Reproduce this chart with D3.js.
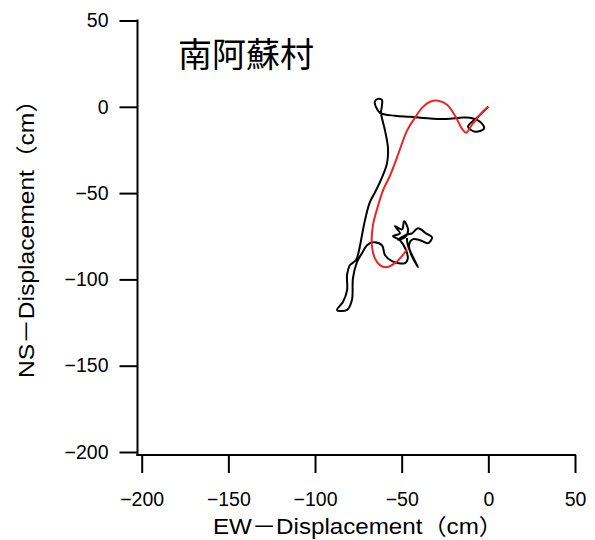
<!DOCTYPE html>
<html>
<head>
<meta charset="utf-8">
<script src="https://cdn.jsdelivr.net/npm/d3@7"></script>
<style>
  html, body { margin: 0; padding: 0; background: #fff; }
  svg { display: block; }
  text { font-family: "Liberation Sans", Arial, "Noto Sans CJK JP", sans-serif; fill: #000; }
</style>
</head>
<body>
<svg id="chart" width="595" height="540"></svg>
<script>
// ---- data (cm) ----
const title = "南阿蘇村";
const xLabel = "EW－Displacement（cm）";
const yLabel = "NS－Displacement（cm）";
const xTicks = [-200, -150, -100, -50, 0, 50];
const yTicks = [-200, -150, -100, -50, 0, 50];

// black trajectory
const blackEW = [0, -2.5, -5.9, -11.7, -7.7, -2.5, -4.8, -10.6, -16.3, -22.1, -31.9, -45.2, -53.9, -62.5, -64.9, -65.5, -63.8, -61.4, -61.4, -61.9, -59.6, -57.9, -58.5, -61.4, -65.4, -68.4, -71.2, -72.9, -74.6, -76.3, -79.8, -81.5, -81.5, -83.9, -87.3, -81.5, -78.7, -78.1, -75.8, -72.9, -70.0, -66.6, -61.4, -59.6, -55.6, -48.1, -46.5, -47.5, -51.0, -55.0, -51.0, -53.9, -49.8, -48.6, -46.3, -48.1, -52.0, -47.0, -44.0, -40.6, -36.0, -32.5, -34.8, -39.4, -43.4, -45.7, -44.6, -42.3, -40.6, -44.0, -46.5, -47.0];
const blackNS = [0, -2.3, -5.8, -11.5, -14.4, -12.7, -8.7, -6.3, -6.3, -6.9, -6.9, -5.8, -5.2, -3.5, 0, 2.9, 4.6, 4.0, 0.6, -3.5, -13.8, -24.2, -32.9, -41.0, -49.6, -55.4, -65.8, -74.4, -83.1, -88.8, -91.7, -97.5, -106.2, -113.1, -117.7, -117.7, -111.9, -99.2, -90.0, -84.8, -80.2, -78.5, -80.2, -86.0, -89.4, -90.6, -88.0, -83.1, -77.3, -75.0, -73.3, -69.2, -71.0, -66.3, -71.5, -75.6, -77.0, -74.0, -73.3, -70.4, -73.3, -75.6, -79.0, -77.3, -76.7, -79.6, -85.4, -90.0, -92.9, -86.0, -80.0, -76.0];

// red trajectory
const redEW = [0, -4.8, -9.4, -12.9, -15.2, -19.2, -23.8, -29.0, -33.6, -38.3, -42.3, -46.9, -52.7, -56.7, -60.8, -63.6, -66.6, -67.2, -65.5, -62.6, -58.5, -53.9, -49.8, -46.9];
const redNS = [0, -4.6, -10.4, -15.0, -12.7, -5.2, 1.2, 3.5, 2.9, -0.6, -6.3, -13.8, -29.4, -39.8, -48.5, -57.1, -68.7, -80.2, -87.7, -91.7, -92.9, -90.6, -86.5, -82.5];

// ---- layout ----
const svg = d3.select("#chart");
const x = d3.scaleLinear().domain([-200, 50]).range([141.7, 575]);
const y = d3.scaleLinear().domain([-200, 50]).range([452, 20.5]);
const axisX = 455, axisY = 137.5;
const fmt = d => d < 0 ? "\u2212" + Math.abs(d) : String(d);

// x axis
const gx = svg.append("g").attr("transform", `translate(0,${axisX})`)
  .call(d3.axisBottom(x).tickValues(xTicks).tickSize(18).tickPadding(19).tickFormat(fmt));
gx.select(".domain").remove();
gx.selectAll(".tick line").attr("stroke", "#000").attr("stroke-width", 2);
gx.selectAll(".tick text").attr("font-size", 19.5).attr("font-family", "Liberation Sans, Arial, sans-serif");
svg.append("line").attr("x1", axisY - 1).attr("x2", x(50) + 1).attr("y1", axisX).attr("y2", axisX)
  .attr("stroke", "#000").attr("stroke-width", 2);

// y axis
const gy = svg.append("g").attr("transform", `translate(${axisY},0)`)
  .call(d3.axisLeft(y).tickValues(yTicks).tickSize(18).tickPadding(11).tickFormat(fmt));
gy.select(".domain").remove();
gy.selectAll(".tick line").attr("stroke", "#000").attr("stroke-width", 2);
gy.selectAll(".tick text").attr("font-size", 19.5).attr("font-family", "Liberation Sans, Arial, sans-serif");
svg.append("line").attr("x1", axisY).attr("x2", axisY).attr("y1", y(50) - 1).attr("y2", axisX + 1)
  .attr("stroke", "#000").attr("stroke-width", 2);

// axis titles
svg.append("text").attr("x", 358).attr("y", 534).attr("text-anchor", "middle")
  .attr("font-size", 22).attr("textLength", 290).attr("lengthAdjust", "spacingAndGlyphs").text(xLabel);
svg.append("text").attr("transform", "translate(34,233) rotate(-90)").attr("text-anchor", "middle")
  .attr("font-size", 22).attr("textLength", 290).attr("lengthAdjust", "spacingAndGlyphs").text(yLabel);

// title
svg.append("text").attr("x", 178).attr("y", 67).attr("font-size", 34)
  .attr("font-family", "Noto Sans CJK JP, sans-serif").text(title);

// trajectories
const line = d3.line().x(d => x(d[0])).y(d => y(d[1])).curve(d3.curveCatmullRom.alpha(0.5));
svg.append("path").datum(blackEW.map((v, i) => [v, blackNS[i]]))
  .attr("d", line).attr("fill", "none").attr("stroke", "#000").attr("stroke-width", 2)
  .attr("stroke-linejoin", "round");
svg.append("path").datum(redEW.map((v, i) => [v, redNS[i]]))
  .attr("d", line).attr("fill", "none").attr("stroke", "#ee2222").attr("stroke-width", 2)
  .attr("stroke-linejoin", "round");
</script>
</body>
</html>
